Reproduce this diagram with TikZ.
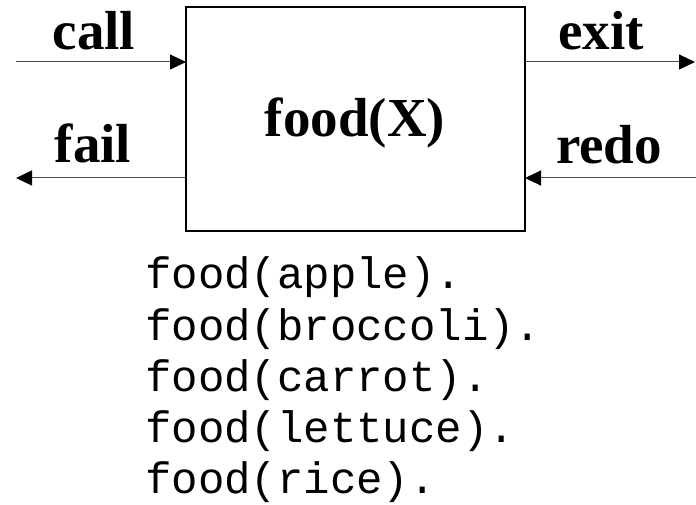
\documentclass[tikz,border=0pt]{standalone}
\usepackage{fontspec}
\setmainfont{Liberation Serif}
\setmonofont{Liberation Mono}
\usetikzlibrary{arrows.meta}
\begin{document}
\begin{tikzpicture}[x=1pt,y=-1pt,
  lbl/.style={font=\fontsize{55}{60}\selectfont\bfseries, inner sep=0pt, anchor=base},
  code/.style={font=\fontsize{44}{50}\selectfont\ttfamily, inner sep=0pt, anchor=base west},
  conn/.style={draw=black!70, line width=1pt, -{Triangle[length=16pt,width=15pt,color=black]}}]
\useasboundingbox (0,0) rectangle (696,505);
\node[draw=black, line width=1.3pt, minimum width=339pt, minimum height=224pt, inner sep=0pt] (box) at (355.5,119) {};
\node[lbl] (title) at (355,137) {food(X)};
\coordinate (callstart) at (16,62);
\coordinate (failend) at (16,178);
\coordinate (exitend) at (695,62);
\coordinate (redostart) at (696,178);
\coordinate (callend) at (186,62);
\coordinate (failstart) at (186,178);
\coordinate (exitstart) at (525,62);
\coordinate (redoend) at (525,178);
\draw[conn] (callstart) -- (callend);
\draw[conn] (failstart) -- (failend);
\draw[conn] (exitstart) -- (exitend);
\draw[conn] (redostart) -- (redoend);
\node[lbl] (call) at (94,50) {call};
\node[lbl] (fail) at (93,163) {fail};
\node[lbl] (exit) at (601,50) {exit};
\node[lbl] (redo) at (609,164) {redo};
\node[code] (l1) at (145,288) {food(apple).};
\node[code] (l2) at (145,340) {food(broccoli).};
\node[code] (l3) at (145,391) {food(carrot).};
\node[code] (l4) at (145,442) {food(lettuce).};
\node[code] (l5) at (145,493) {food(rice).};
\end{tikzpicture}
\end{document}
